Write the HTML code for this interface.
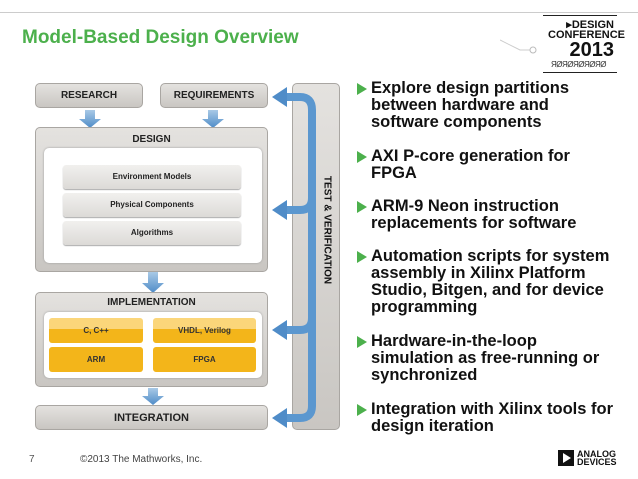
<!DOCTYPE html>
<html><head><meta charset="utf-8"><style>
body{margin:0;width:638px;height:479px;background:#fff;position:relative;overflow:hidden;font-family:"Liberation Sans",sans-serif}
.a{position:absolute}
.gb{position:absolute;background:linear-gradient(#e4e2df,#c9c6c2);border:1px solid #a9a6a2;border-radius:5px;box-sizing:border-box;font-weight:bold;font-size:10px;color:#222;text-align:center}
.wb{position:absolute;background:#fff;border-radius:5px;box-shadow:0 0 2px #999}
.lb{position:absolute;background:linear-gradient(#f1f0ee,#dcdad7);border-radius:3px;font-weight:bold;font-size:8px;color:#222;text-align:center;box-shadow:0 1px 1px #aaa}
.yb{position:absolute;background:linear-gradient(#fbd67a 0,#fbd67a 45%,#f3b51a 45%,#f3b51a);border-radius:3px;font-weight:bold;font-size:8px;color:#333;text-align:center;line-height:25px}
.yb2{background:#f3b51a}
.bl{position:absolute;left:357px;font-weight:bold;font-size:16.5px;line-height:17px;color:#111;width:285px;white-space:nowrap}
.bl:before{content:"";position:absolute;left:0;top:3px;border-left:10px solid #4cb04c;border-top:6px solid transparent;border-bottom:6px solid transparent}
.bl span{display:block;padding-left:14px}
</style></head><body>
<div class="a" style="left:0;top:12px;width:638px;height:1px;background:#ccc"></div>
<div class="a" style="left:22px;top:27px;font-size:19px;font-weight:bold;color:#4cb04c">Model-Based Design Overview</div>

<div class="a" style="left:543px;top:15px;width:74px;height:1px;background:#222"></div>
<div class="a" style="left:543px;top:72px;width:74px;height:1px;background:#222"></div>
<div class="a" style="left:548px;top:20px;width:66px;text-align:right;font-weight:bold;font-size:11px;line-height:10px;color:#111">▸DESIGN<br>CONFERENCE</div>
<div class="a" style="left:548px;top:40px;width:66px;text-align:right;font-weight:bold;font-size:20px;line-height:20px;color:#111">2013</div>
<div class="a" style="left:551px;top:60px;font-size:8px;color:#333;letter-spacing:-0.5px">ЯØЯØЯØЯØЯØ</div>
<svg class="a" style="left:500px;top:30px" width="45" height="30"><path d="M0 10 L20 20 L30 20" stroke="#ccc" fill="none"/><circle cx="33" cy="20" r="3" stroke="#bbb" fill="#fff"/></svg>

<div class="gb" style="left:35px;top:83px;width:108px;height:25px;line-height:24px">RESEARCH</div>
<div class="gb" style="left:160px;top:83px;width:108px;height:25px;line-height:24px">REQUIREMENTS</div>
<svg class="a" style="left:0;top:0" width="300" height="479">
<defs><linearGradient id="g" x1="0" x2="0" y1="0" y2="1"><stop offset="0" stop-color="#a9c9e6"/><stop offset="1" stop-color="#4f8cc8"/></linearGradient></defs>
<g fill="url(#g)">
<path d="M85 110h10v9h6l-11 9-11-9h6z"/><path d="M208 110h10v9h6l-11 9-11-9h6z"/>
<path d="M148 272h10v11h6l-11 10-11-10h6z"/><path d="M148 388h10v8h6l-11 9-11-9h6z"/>
</g></svg>

<div class="gb" style="left:35px;top:127px;width:233px;height:145px;padding-top:6px">DESIGN</div>
<div class="wb" style="left:44px;top:148px;width:218px;height:115px"></div>
<div class="lb" style="left:63px;top:165px;width:178px;height:24px;line-height:24px">Environment Models</div>
<div class="lb" style="left:63px;top:193px;width:178px;height:24px;line-height:24px">Physical Components</div>
<div class="lb" style="left:63px;top:221px;width:178px;height:24px;line-height:24px">Algorithms</div>

<div class="gb" style="left:35px;top:292px;width:233px;height:95px;padding-top:4px">IMPLEMENTATION</div>
<div class="wb" style="left:44px;top:312px;width:218px;height:66px"></div>
<div class="yb" style="left:49px;top:318px;width:94px;height:25px">C, C++</div>
<div class="yb" style="left:153px;top:318px;width:103px;height:25px">VHDL, Verilog</div>
<div class="yb yb2" style="left:49px;top:347px;width:94px;height:25px">ARM</div>
<div class="yb yb2" style="left:153px;top:347px;width:103px;height:25px">FPGA</div>

<div class="gb" style="left:35px;top:405px;width:233px;height:25px;line-height:24px;font-size:11px">INTEGRATION</div>

<div class="gb" style="left:292px;top:83px;width:48px;height:347px"></div>
<div class="a" style="left:327px;top:230px;transform:translate(-50%,-50%) rotate(90deg);font-weight:bold;font-size:10px;white-space:nowrap;color:#111">TEST &amp; VERIFICATION</div>
<svg class="a" style="left:0;top:0" width="350" height="479">
<g fill="none" stroke="#5b97cf" stroke-width="8">
<path d="M284 97 H300 Q312 97 312 110 V198 Q312 210 300 210 H284"/>
<path d="M312 198 V318 Q312 330 300 330 H284"/>
<path d="M312 318 V406 Q312 418 300 418 H284"/>
</g>
<g fill="#4f8cc8">
<path d="M272 97 L287 87 V107Z"/><path d="M272 210 L287 200 V220Z"/><path d="M272 330 L287 320 V340Z"/><path d="M272 418 L287 408 V428Z"/>
</g></svg>

<div class="bl" style="top:80px"><span>Explore design partitions<br>between hardware and<br>software components</span></div>
<div class="bl" style="top:148px"><span>AXI P-core generation for<br>FPGA</span></div>
<div class="bl" style="top:198px"><span>ARM-9 Neon instruction<br>replacements for software</span></div>
<div class="bl" style="top:248px"><span>Automation scripts for system<br>assembly in Xilinx Platform<br>Studio, Bitgen, and for device<br>programming</span></div>
<div class="bl" style="top:333px"><span>Hardware-in-the-loop<br>simulation as free-running or<br>synchronized</span></div>
<div class="bl" style="top:401px"><span>Integration with Xilinx tools for<br>design iteration</span></div>

<div class="a" style="left:29px;top:454px;font-size:10px;color:#555">7</div>
<div class="a" style="left:80px;top:454px;font-size:10px;color:#444">©2013 The Mathworks, Inc.</div>

<div class="a" style="left:558px;top:450px;width:16px;height:16px;background:#111"></div>
<div class="a" style="left:563px;top:453px;border-left:8px solid #fff;border-top:5px solid transparent;border-bottom:5px solid transparent"></div>
<div class="a" style="left:577px;top:450px;font-size:9px;line-height:8px;font-weight:bold;color:#111">ANALOG<br>DEVICES</div>
</body></html>
